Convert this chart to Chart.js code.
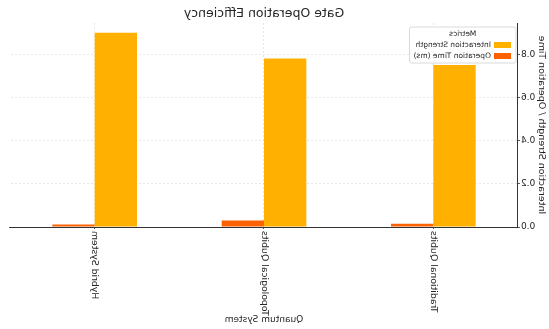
<!DOCTYPE html>
<html>
<head>
<meta charset="utf-8">
<script src="https://cdn.jsdelivr.net/npm/chart.js@4.4.0/dist/chart.umd.min.js"></script>
<style>
    html, body { margin: 0; padding: 0; background: #fff; }
    #wrap { width: 549px; height: 329px; position: relative; }
    /* the reference picture is mirrored left to right */
    #gateChart { transform: scaleX(-1); }
</style>
</head>
<body>
<div id="wrap"><canvas id="gateChart"></canvas></div>
<script>
const categories = ['Traditional Qubits', 'Topological Qubits', 'Hybrid System'];
const interactionStrength = [0.75, 0.78, 0.90];
const operationTime = [0.015, 0.03, 0.012];
const yTickValues = [0, 0.2, 0.4, 0.6, 0.8];

document.addEventListener('DOMContentLoaded', () => {
    Chart.defaults.font.family = "'DejaVu Sans', sans-serif";
    Chart.defaults.color = '#262626';

    // matplotlib style legend inside the top left of the plot
    const legendBox = {
        id: 'legendBox',
        afterDraw(chart) {
            const { ctx, chartArea } = chart;
            ctx.save();
            ctx.font = "7.5px 'DejaVu Sans', sans-serif";
            const labels = chart.data.datasets.map(d => d.label);
            const textW = Math.max(...labels.map(l => ctx.measureText(l).width));
            const x = chartArea.left + 2;
            const y = chartArea.top + 4;
            const w = textW + 29;
            const h = 36;

            ctx.beginPath();
            if (ctx.roundRect) ctx.roundRect(x, y, w, h, 2);
            else ctx.rect(x, y, w, h);
            ctx.fillStyle = 'rgba(255,255,255,0.85)';
            ctx.fill();
            ctx.strokeStyle = '#d0d0d0';
            ctx.lineWidth = 0.8;
            ctx.stroke();

            ctx.fillStyle = '#262626';
            ctx.textBaseline = 'middle';
            ctx.textAlign = 'center';
            ctx.fillText('Metrics', x + w / 2, y + 7);

            chart.data.datasets.forEach((ds, i) => {
                const cy = y + 18 + i * 11;
                ctx.fillStyle = ds.backgroundColor;
                ctx.fillRect(x + 5, cy - 3, 17, 6);
                ctx.fillStyle = '#262626';
                ctx.textAlign = 'left';
                ctx.fillText(ds.label, x + 25, cy);
            });
            ctx.restore();
        }
    };

    const ctx = document.getElementById('gateChart').getContext('2d');
    const yMax = Math.max(...interactionStrength, ...operationTime) * 1.05;

    new Chart(ctx, {
        type: 'bar',
        data: {
            labels: categories,
            datasets: [{
                label: 'Interaction Strength',
                data: interactionStrength,
                backgroundColor: '#FFB000',
                borderWidth: 0
            }, {
                label: 'Operation Time (ms)',
                data: operationTime,
                backgroundColor: '#FE6100',
                borderWidth: 0
            }]
        },
        options: {
            responsive: true,
            maintainAspectRatio: false,
            animation: false,
            layout: { padding: { left: 0, right: 10, top: 0, bottom: 0 } },
            datasets: {
                bar: { categoryPercentage: 0.5, barPercentage: 1.0 }
            },
            scales: {
                x: {
                    afterFit(scale) { scale.height = 102; },
                    grid: {
                        offset: false,
                        color: 'rgba(0,0,0,0.12)',
                        tickColor: '#333',
                        tickLength: 2,
                        lineWidth: 0.8
                    },
                    border: { color: '#333', width: 1, dash: [2, 2] },
                    ticks: {
                        minRotation: 90,
                        maxRotation: 90,
                        padding: 2,
                        autoSkip: false,
                        font: { size: 9.3 }
                    },
                    title: {
                        display: true,
                        text: 'Quantum System',
                        font: { size: 9 },
                        padding: { top: 2, bottom: 4 }
                    }
                },
                y: {
                    min: 0,
                    max: yMax,
                    afterFit(scale) { scale.width = 31; },
                    afterBuildTicks(scale) {
                        scale.ticks = yTickValues.map(v => ({ value: v }));
                    },
                    grid: {
                        color: 'rgba(0,0,0,0.12)',
                        tickColor: '#333',
                        tickLength: 2,
                        lineWidth: 0.8
                    },
                    border: { color: '#333', width: 1, dash: [2, 2] },
                    ticks: {
                        padding: 1,
                        font: { size: 9 },
                        callback: v => Number(v).toFixed(1)
                    },
                    title: {
                        display: true,
                        text: 'Interaction Strength / Operation Time',
                        font: { size: 9.5 },
                        padding: { top: 2, bottom: 0 }
                    }
                }
            },
            plugins: {
                legend: { display: false },
                tooltip: { enabled: false },
                title: {
                    display: true,
                    fullSize: false,
                    text: 'Gate Operation Efficiency',
                    font: { size: 12.5, weight: 'normal' },
                    color: '#262626',
                    padding: { top: 6, bottom: 2 }
                }
            }
        },
        plugins: [legendBox]
    });
});
</script>
</body>
</html>
